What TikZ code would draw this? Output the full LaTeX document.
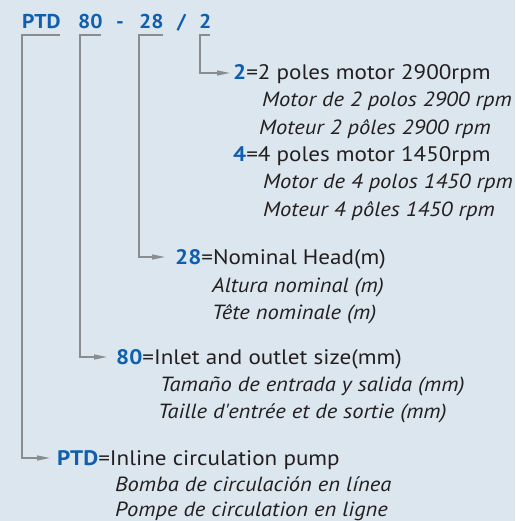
\documentclass[tikz,border=0pt]{standalone}
\usepackage{fontspec}
\setmainfont{PT Sans}
\newfontfamily\wideff[FakeStretch=1.1]{PT Sans}
\newfontfamily\headff[FakeStretch=1.08]{PT Sans}
\usetikzlibrary{arrows.meta,calc}
\definecolor{bg}{HTML}{DCE6EE}
\definecolor{codeblue}{HTML}{0F5FAE}
\definecolor{txt}{HTML}{231F20}
\definecolor{ln}{HTML}{8A8C8E}
\begin{document}
\begin{tikzpicture}[x=1pt,y=-1pt,
 code/.style={font=\headff\fontsize{20}{20}\selectfont\bfseries, text=codeblue, inner sep=0, anchor=base west},
 main/.style={font=\wideff\fontsize{21}{21}\selectfont, text=txt, inner sep=0, anchor=base west},
 tr/.style={font=\wideff\fontsize{20.5}{20.5}\selectfont\itshape, text=txt, inner sep=0, anchor=base west},
 lead/.style={draw=ln, line width=1.3pt, -{Triangle[length=13pt,width=5pt]}},
 brk/.style={draw=ln, line width=1.3pt}]
\fill[bg] (0,0) rectangle (515,521);
\useasboundingbox (0,0) rectangle (515,521);
% header
\node[code] (ptd) at (22,29) {PTD};
\node[code] (c80) at (78,29) {80};
\node[code] (dash) at (116,29) {-};
\node[code] (c28) at (139,29) {28};
\node[code] (slash) at (177,29) {/};
\node[code] (c2) at (199,29) {2};
% descriptions
\node[main] (d2) at (233,80) {\textcolor{codeblue}{\bfseries 2}=2 poles motor 2900rpm};
\node[tr] (d2a) at (262,107) {Motor de 2 polos 2900 rpm};
\node[tr] (d2b) at (259,135) {Moteur 2 pôles 2900 rpm};
\node[main] (d4) at (233,162) {\textcolor{codeblue}{\bfseries 4}=4 poles motor 1450rpm};
\node[tr] (d4a) at (263,189) {Motor de 4 polos 1450 rpm};
\node[tr] (d4b) at (263,216) {Moteur 4 pôles 1450 rpm};
\node[main] (d28) at (175,264) {\textcolor{codeblue}{\bfseries 28}=Nominal Head(m)};
\node[tr] (d28a) at (212,292) {Altura nominal (m)};
\node[tr] (d28b) at (212,319) {Tête nominale (m)};
\node[main] (d80) at (116,364) {\textcolor{codeblue}{\bfseries 80}=Inlet and outlet size(mm)};
\node[tr] (d80a) at (160,391) {Tamaño de entrada y salida (mm)};
\node[tr] (d80b) at (158,418) {Taille d'entrée et de sortie (mm)};
\node[main] (dptd) at (57,465) {\textcolor{codeblue}{\bfseries PTD}=Inline circulation pump};
\node[tr] (dptda) at (115,491) {Bomba de circulación en línea};
\node[tr] (dptdb) at (115,516) {Pompe de circulation en ligne};
% connectors
\draw[lead] (210,35) -- (200,35) |- ($(d2.base west)+(-3,-7)$);
\draw[lead] (163,35) -- (139,35) |- ($(d28.base west)+(-10,-7)$);
\draw[lead] (101,35) -- (80,35) |- ($(d80.base west)+(-9,-7)$);
\draw[lead] (60,35) -- (22,35) |- ($(dptd.base west)+(-7,-7)$);
\end{tikzpicture}
\end{document}
